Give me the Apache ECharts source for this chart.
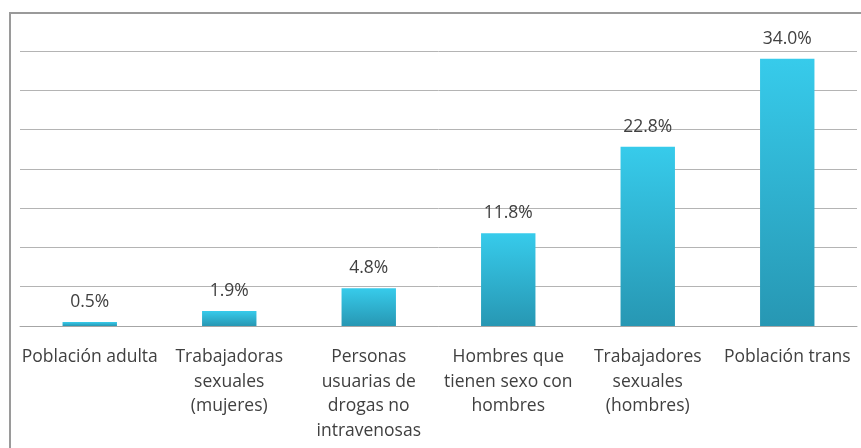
<!DOCTYPE html>
<html style="height: 100%">
   <head>
       <meta charset="utf-8">
   </head>
   <body style="height: 100%; margin: 0; background: #fff">
       <div id="container" style="width: 861px; height: 448px"></div>
       <script type="text/javascript" src="https://cdn.jsdelivr.net/npm/echarts/dist/echarts.min.js"></script>
       <script type="text/javascript">
var categories = [
    'Población adulta',
    'Trabajadoras\nsexuales\n(mujeres)',
    'Personas\nusuarias de\ndrogas no\nintravenosas',
    'Hombres que\ntienen sexo con\nhombres',
    'Trabajadores\nsexuales\n(hombres)',
    'Población trans'
];
var values = [0.5, 1.9, 4.8, 11.8, 22.8, 34.0];

var myChart = echarts.init(document.getElementById('container'));

var barColor = new echarts.graphic.LinearGradient(0, 0, 0, 1, [
    {offset: 0, color: '#37cbeb'},
    {offset: 1, color: '#2797b3'}
]);

option = {
    backgroundColor: '#fff',
    animation: false,
    graphic: [{
        type: 'rect',
        shape: {x: 10, y: 13, width: 880, height: 480},
        style: {fill: 'none', stroke: '#9a9a9a', lineWidth: 2}
    }],
    grid: {left: 20, right: 4, top: 51, bottom: 122},
    xAxis: {
        type: 'category',
        data: categories,
        axisLine: {lineStyle: {color: '#a6a6a6', width: 1}},
        axisTick: {length: 5, lineStyle: {color: '#a6a6a6'}},
        axisLabel: {
            interval: 0,
            margin: 19,
            color: '#404040',
            fontSize: 17.5,
            fontFamily: 'Open Sans',
            lineHeight: 24.5
        }
    },
    yAxis: {
        type: 'value',
        min: 0,
        max: 35,
        interval: 5,
        axisLabel: {show: false},
        axisLine: {show: false},
        axisTick: {show: false},
        splitLine: {lineStyle: {color: '#b4b4b4', width: 1}}
    },
    series: [{
        type: 'bar',
        data: values,
        barWidth: '39%',
        itemStyle: {color: barColor},
        label: {
            show: true,
            position: 'top',
            distance: 11,
            color: '#404040',
            fontSize: 17.5,
            fontFamily: 'Open Sans',
            formatter: function (p) { return p.value.toFixed(1) + '%'; }
        }
    }]
};

myChart.setOption(option, true);
       </script>
   </body>
</html>
